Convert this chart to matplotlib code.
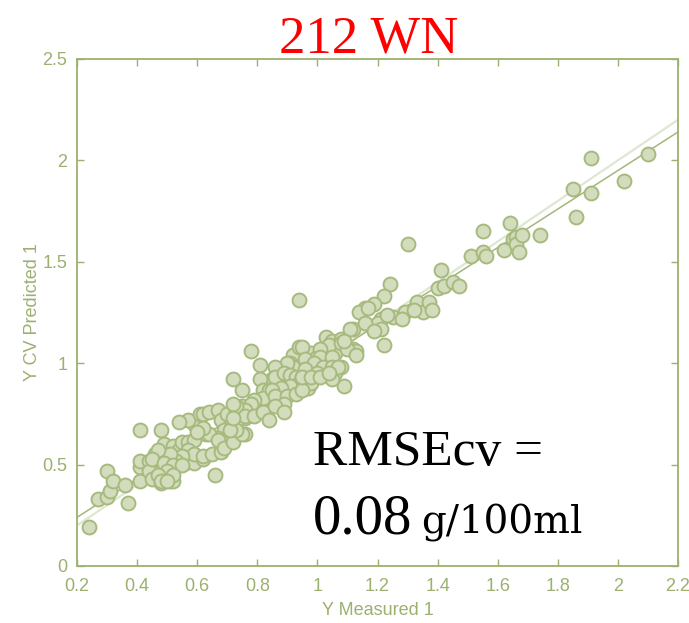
import numpy as np
import matplotlib
matplotlib.use('Agg')
import matplotlib.pyplot as plt

# measured vs cross-validated predicted values
measured = [
    0.24, 0.27, 0.30, 0.30, 0.31, 0.32, 0.36, 0.37,
    0.41, 0.41, 0.41, 0.41, 0.44, 0.44, 0.45, 0.46, 0.48, 0.48, 0.51, 0.52,
    0.49, 0.49, 0.52, 0.51, 0.50, 0.49, 0.52, 0.54, 0.55, 0.57, 0.59, 0.56,
    0.59, 0.57, 0.62, 0.60, 0.59, 0.57, 0.61, 0.63, 0.54,
    0.62, 0.64, 0.67, 0.68, 0.70, 0.73, 0.75, 0.78, 0.76, 0.73, 0.71, 0.69,
    0.67, 0.64, 0.62, 0.60, 0.57, 0.59, 0.62, 0.65, 0.68, 0.67, 0.69, 0.72,
    0.76, 0.66, 0.55, 0.53, 0.51, 0.47, 0.45, 0.49, 0.52, 0.55, 0.50, 0.47,
    0.48, 0.52, 0.50,
    0.78, 0.81, 0.72, 0.75, 1.03, 1.05, 1.08, 1.12, 1.12, 1.13, 1.09, 0.94,
    0.98, 1.00, 1.04, 1.06, 1.08, 1.05, 1.03, 1.00, 0.98, 0.94, 0.94, 0.92,
    0.91, 0.90, 0.93, 0.97, 0.98, 0.96, 0.87, 0.85, 0.88, 0.89, 0.81, 0.82,
    0.84, 0.85, 0.88, 0.82, 0.79, 0.78, 0.76, 0.73, 0.72, 0.76, 0.79, 0.82,
    0.84, 0.75, 0.73, 0.71, 0.72,
    0.94, 1.04, 1.08, 1.10, 1.02, 0.95, 0.92, 0.90, 0.86, 0.86, 0.89, 0.91,
    0.93, 0.95, 0.98, 1.01, 1.04, 1.06, 1.06, 1.05, 0.98, 0.94, 0.91, 0.88,
    0.85, 0.86, 0.90, 0.93, 0.95, 0.89, 0.86, 0.89,
    0.95, 1.01, 1.01, 1.05, 0.96, 0.99, 1.02, 1.05, 1.07, 0.96, 1.00, 0.95,
    0.98, 1.01, 1.04, 1.11, 1.09, 1.13, 0.94,
    1.24, 1.22, 1.19, 1.16, 1.14, 1.17, 1.21, 1.20, 1.16, 1.21, 1.19, 1.22,
    1.25, 1.29, 1.33, 1.35, 1.37, 1.23, 1.28, 1.32, 1.38, 1.30, 1.41, 1.40,
    1.42, 1.45, 1.47, 1.51, 1.55, 1.56, 1.55, 1.62, 1.64, 1.65, 1.66, 1.66,
    1.67, 1.68, 1.74, 1.85, 1.86, 1.91, 1.91, 2.02, 2.10,
]
predicted = [
    0.19, 0.33, 0.34, 0.47, 0.37, 0.42, 0.40, 0.31,
    0.67, 0.42, 0.49, 0.52, 0.52, 0.47, 0.43, 0.55, 0.41, 0.67, 0.42, 0.42,
    0.45, 0.48, 0.48, 0.45, 0.51, 0.60, 0.59, 0.57, 0.61, 0.61, 0.62, 0.51,
    0.51, 0.56, 0.53, 0.70, 0.70, 0.72, 0.75, 0.65, 0.71,
    0.75, 0.76, 0.77, 0.72, 0.75, 0.77, 0.79, 0.77, 0.73, 0.71, 0.69, 0.67,
    0.63, 0.65, 0.68, 0.66, 0.57, 0.55, 0.54, 0.55, 0.56, 0.62, 0.58, 0.61,
    0.65, 0.45, 0.54, 0.52, 0.55, 0.57, 0.53, 0.51, 0.50, 0.50, 0.47, 0.45,
    0.42, 0.45, 0.42,
    1.06, 0.99, 0.92, 0.87, 1.13, 1.11, 1.12, 1.17, 1.07, 1.06, 0.89, 1.07,
    1.05, 1.03, 1.02, 1.05, 0.98, 0.97, 0.97, 0.98, 1.00, 1.04, 0.99, 1.04,
    1.00, 0.94, 0.91, 0.88, 0.93, 0.97, 0.97, 0.92, 0.93, 0.91, 0.92, 0.87,
    0.87, 0.81, 0.79, 0.83, 0.82, 0.80, 0.77, 0.79, 0.80, 0.74, 0.74, 0.76,
    0.72, 0.65, 0.67, 0.67, 0.73,
    1.08, 1.09, 1.10, 1.07, 0.99, 0.99, 0.98, 1.00, 0.98, 0.93, 0.95, 0.94,
    0.93, 0.93, 0.94, 0.96, 0.97, 0.98, 0.95, 0.92, 0.90, 0.90, 0.89, 0.88,
    0.87, 0.84, 0.84, 0.85, 0.87, 0.80, 0.79, 0.76,
    1.08, 1.07, 1.03, 1.03, 1.02, 1.00, 0.98, 0.98, 0.98, 0.97, 0.95, 0.93,
    0.93, 0.93, 0.95, 1.17, 1.11, 1.04, 1.31,
    1.39, 1.33, 1.29, 1.27, 1.25, 1.27, 1.22, 1.20, 1.20, 1.17, 1.16, 1.09,
    1.23, 1.25, 1.30, 1.25, 1.30, 1.24, 1.22, 1.26, 1.26, 1.59, 1.46, 1.37,
    1.38, 1.40, 1.38, 1.53, 1.55, 1.53, 1.65, 1.56, 1.69, 1.61, 1.62, 1.59,
    1.55, 1.63, 1.63, 1.86, 1.72, 1.84, 2.01, 1.90, 2.03,
]

# regression line of predicted on measured, and the 1:1 target line
fit_slope = 0.95
fit_intercept = 0.05
line_x = [0.2, 2.2]

x_ticks = [0.2, 0.4, 0.6, 0.8, 1.0, 1.2, 1.4, 1.6, 1.8, 2.0, 2.2]
x_labels = ['0.2', '0.4', '0.6', '0.8', '1', '1.2', '1.4', '1.6', '1.8', '2', '2.2']
y_ticks = [0, 0.5, 1.0, 1.5, 2.0, 2.5]
y_labels = ['0', '0.5', '1', '1.5', '2', '2.5']

axis_col = '#9cb070'
face_col = '#d3ddbd'
edge_col = '#a6ba7e'

fig = plt.figure(figsize=(6.89, 6.23), dpi=100)
ax = fig.add_axes([0.1118, 0.0915, 0.8722, 0.8138])

lx = np.array(line_x)
ax.plot(lx, lx, color='#dfe6d2', lw=1.6, zorder=1)
ax.plot(lx, fit_intercept + fit_slope * lx, color='#a3b77b', lw=1.1, zorder=2)
ax.scatter(measured, predicted, s=100, facecolor=face_col, edgecolor=edge_col,
           linewidth=1.4, zorder=3)

ax.set_xlim(0.2, 2.2)
ax.set_ylim(0, 2.5)
ax.set_xticks(x_ticks)
ax.set_xticklabels(x_labels)
ax.set_yticks(y_ticks)
ax.set_yticklabels(y_labels)

for side in ax.spines.values():
    side.set_color(axis_col)
    side.set_linewidth(1.3)
ax.tick_params(direction='in', length=5, width=1, color=axis_col,
               labelcolor=axis_col, labelsize=13, top=True, right=True)
ax.tick_params(axis='x', pad=9)
ax.tick_params(axis='y', pad=7)
for lab in ax.get_xticklabels() + ax.get_yticklabels():
    lab.set_family('Liberation Sans')

ax.set_xlabel('Y Measured 1', color=axis_col, fontsize=13,
              family='Liberation Sans', labelpad=5)
ax.set_ylabel('Y CV Predicted 1', color=axis_col, fontsize=13,
              family='Liberation Sans', labelpad=1)

fig.text(0.535, 0.937, '212 WN', color='#ff0000', fontsize=38,
         family='Liberation Serif', ha='center', va='center')

ax.text(0.393, 0.199, 'RMSEcv =', transform=ax.transAxes, fontsize=37,
        family='Liberation Serif', va='baseline')
ax.text(0.393, 0.065, '0.08', transform=ax.transAxes, fontsize=41,
        family='Liberation Serif', va='baseline')
ax.text(0.573, 0.065, 'g/100ml', transform=ax.transAxes, fontsize=28,
        family='DejaVu Serif', va='baseline')

fig.savefig('out.png', dpi=100, facecolor='white')
